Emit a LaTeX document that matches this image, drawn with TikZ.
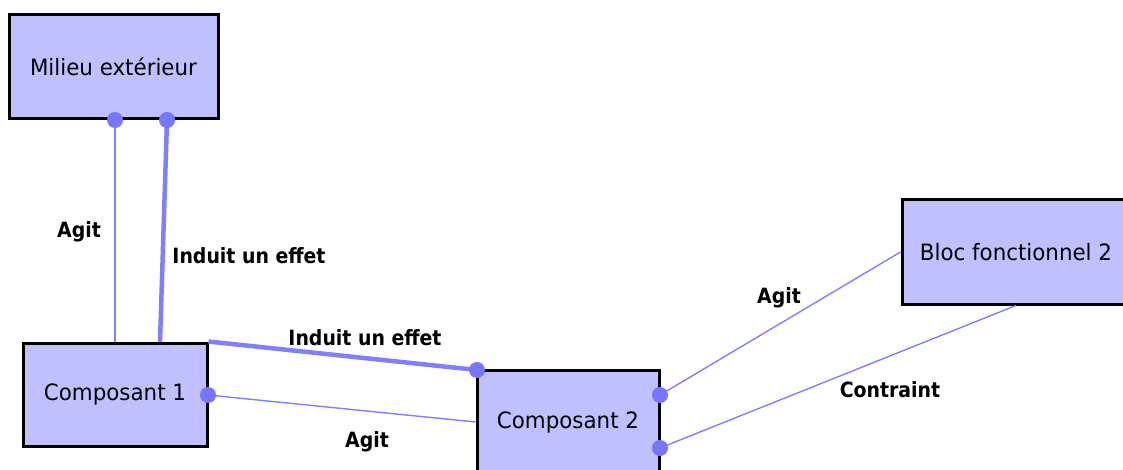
\documentclass[tikz,border=0pt]{standalone}
\usepackage{fontspec}
\setmainfont{DejaVu Sans}
\newfontfamily\blockfont[FakeStretch=0.95]{DejaVu Sans}
\newfontfamily\labelfont[FakeStretch=0.9]{DejaVu Sans}
\usetikzlibrary{calc}
\definecolor{boxfill}{RGB}{192,192,255}
\definecolor{linkcol}{RGB}{128,128,255}
\definecolor{dotcol}{RGB}{118,118,255}
\tikzset{
  block/.style={draw=black, line width=3pt, fill=boxfill, rectangle,
    inner sep=0pt, font=\blockfont\fontsize{22.5}{25}\selectfont},
  thinlink/.style={draw=linkcol, line width=1.4pt},
  thicklink/.style={draw=linkcol, line width=4.5pt},
  joint/.style={circle, fill=dotcol, inner sep=0pt, minimum size=16pt},
  linklabel/.style={font=\labelfont\fontsize{21}{24}\bfseries\selectfont, inner sep=0pt}
}
\begin{document}
\begin{tikzpicture}[x=1pt, y=-1pt]
  \useasboundingbox (0,0) rectangle (1123,470);
  \clip (0,0) rectangle (1123,470);
  \fill[white] (0,0) rectangle (1123,470);

  % functional blocks
  \node[block, minimum width=209pt, minimum height=104pt] (milieu) at (113.5,67) {Milieu extérieur};
  \node[block, minimum width=184pt, minimum height=103pt] (comp1) at (115,394.5) {Composant 1};
  \node[block, minimum width=182pt, minimum height=104pt] (comp2) at (568,422) {Composant 2};
  \node[block, minimum width=228pt, minimum height=104pt] (bloc) at (1016,252) {Bloc fonctionnel 2};

  % connection points on the block borders
  \coordinate (m1) at (115,120);
  \coordinate (m2) at (167,120);
  \coordinate (c1a) at (208,395);
  \coordinate (c1t) at (160,342);
  \coordinate (c2a) at (477,370);
  \coordinate (c2b) at (660,395);
  \coordinate (c2c) at (660,448);

  % links
  \draw[thinlink] (m1) -- (m1 |- comp1.north);
  \draw[thicklink] (m2) -- (c1t);
  \draw[thicklink] (comp1.north east) -- (c2a);
  \draw[thinlink] (c1a) -- (comp2.west);
  \draw[thinlink] (c2b) -- (bloc.west);
  \draw[thinlink] (c2c) -- (bloc.south);

  % joints
  \foreach \p in {m1,m2,c1a,c2a,c2b,c2c}
    \node[joint] (j-\p) at (\p) {};

  % link labels
  \node[linklabel] (l1) at (79,232) {Agit};
  \node[linklabel] (l2) at (249,256) {Induit un effet};
  \node[linklabel] (l3) at (365,338) {Induit un effet};
  \node[linklabel] (l4) at (367,442) {Agit};
  \node[linklabel] (l5) at (779,298) {Agit};
  \node[linklabel] (l6) at (890,390) {Contraint};
\end{tikzpicture}
\end{document}
